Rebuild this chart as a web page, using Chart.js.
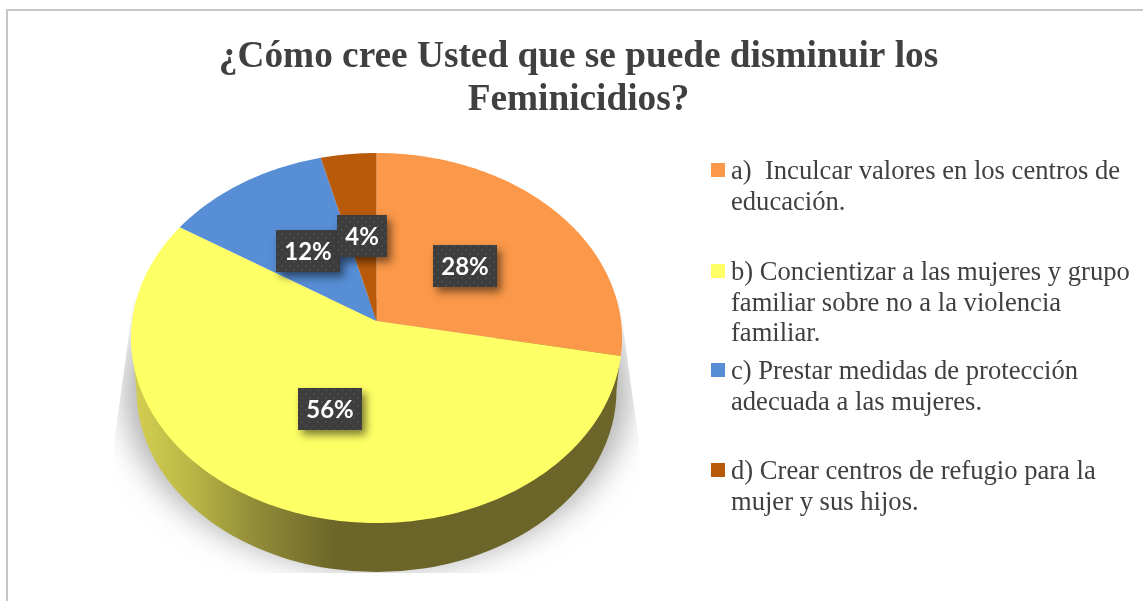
<!DOCTYPE html>
<html lang="es">
<head>
<meta charset="utf-8">
<title>Feminicidios</title>
<script src="https://cdn.jsdelivr.net/npm/chart.js@4/dist/chart.umd.min.js"></script>
<style>
  html, body { margin: 0; padding: 0; background: #fff; overflow: hidden; }
  #wrap { position: relative; width: 1143px; height: 601px; }
  #frame { position: absolute; left: 6px; top: 9px; right: 0; bottom: 0; border-left: 2px solid #c6c6c6; border-top: 2px solid #c6c6c6; }
  canvas { position: absolute; left: 0; top: 0; }
  .leyenda { position: absolute; left: 731px; font: 26.6px/30.7px "Liberation Serif", serif; color: #404040; white-space: pre; }
  .leyenda i { position: absolute; left: -20px; top: 8px; width: 14px; height: 14px; }
</style>
</head>
<body>
<div id="wrap">
  <div id="frame"></div>
  <canvas id="grafico" width="1143" height="601"></canvas>
</div>
<script>
const titulo = ["¿Cómo cree Usted que se puede disminuir los", "Feminicidios?"];
const categorias = [
  "a)  Inculcar valores en los centros de\neducación.",
  "b) Concientizar a las mujeres y grupo\nfamiliar sobre no a la violencia\nfamiliar.",
  "c) Prestar medidas de protección\nadecuada a las mujeres.",
  "d) Crear centros de refugio para la\nmujer y sus hijos."
];
const valores = [28, 56, 12, 4];
const colores = ["#FB9849", "#FFFF66", "#578ED6", "#B85A0A"];

// sitio de cada entrada de la leyenda
const leyendaTop = [155, 256, 355, 455];
// que tan lejos del apice va cada etiqueta (0 a 1)
const etiquetaT = [0.5, 0.473, 0.51, 0.51];

// geometria del pie: circulo base y como se aplasta
const centroX = 376.5, centroY = 338, radio = 245.5;
const aplastado = 185 / 245.5;
const inclinacion = -0.092;

function proyectar(arc, ang, t) {
  const X = Math.cos(ang), Y = Math.sin(ang);
  const d = 1 + inclinacion * Y;
  const px = X * Math.sqrt(1 - inclinacion * inclinacion) / d;
  const py = (Y + inclinacion) / d;
  const ax = arc.x, ay = arc.y + arc.outerRadius * aplastado * inclinacion;
  const bx = arc.x + arc.outerRadius * px, by = arc.y + arc.outerRadius * aplastado * py;
  return { x: ax + (bx - ax) * t, y: ay + (by - ay) * t };
}

function tramaPuntos(ctx) {
  const c = document.createElement("canvas");
  c.width = 8; c.height = 8;
  const g = c.getContext("2d");
  g.fillStyle = "#3d3d3d"; g.fillRect(0, 0, 8, 8);
  g.fillStyle = "#4a4a4a"; g.fillRect(1, 1, 2, 2);
  g.fillRect(5, 5, 2, 2);
  return ctx.createPattern(c, "repeat");
}

const pie3d = {
  id: "pie3d",
  afterLayout(chart) {
    // el titulo se monta sobre la caja del circulo, asi que la caja se fija a mano
    chart.chartArea = {
      left: centroX - radio, right: centroX + radio,
      top: centroY - radio, bottom: centroY + radio,
      width: radio * 2, height: radio * 2
    };
  },
  beforeDatasetDraw(chart, args) {
    const ctx = chart.ctx;
    const arcs = args.meta.data;
    const cx = arcs[0].x, cy = arcs[0].y, r = arcs[0].outerRadius;
    const baseY = cy + 52, baseRy = 182, baseRx = r - 5.5;

    // sombra
    ctx.save();
    ctx.beginPath();
    ctx.moveTo(cx - r + 3, cy - 40);
    ctx.lineTo(cx - r - 17, cy + 105);
    ctx.lineTo(cx - r - 17, baseY + baseRy + 1);
    ctx.lineTo(cx + r + 17, baseY + baseRy + 1);
    ctx.lineTo(cx + r + 17, cy + 105);
    ctx.lineTo(cx + r - 3, cy - 40);
    ctx.closePath();
    ctx.clip();
    ctx.filter = "blur(16px)";
    ctx.fillStyle = "#adadad";
    ctx.beginPath();
    ctx.ellipse(cx, baseY, r + 6, baseRy - 4, 0, 0, Math.PI * 2);
    ctx.fill();
    ctx.restore();

    // pared
    const grad = ctx.createLinearGradient(cx - baseRx, 0, cx + baseRx, 0);
    grad.addColorStop(0, "#d2cd50");
    grad.addColorStop(0.11, "#bcb746");
    grad.addColorStop(0.24, "#938e38");
    grad.addColorStop(0.42, "#6b6529");
    grad.addColorStop(1, "#6b6529");
    ctx.save();
    ctx.fillStyle = grad;
    ctx.beginPath();
    ctx.moveTo(cx - r, cy);
    ctx.lineTo(cx - baseRx, baseY);
    ctx.ellipse(cx, baseY, baseRx, baseRy, 0, Math.PI, 0, true);
    ctx.lineTo(cx + r, cy);
    ctx.closePath();
    ctx.fill();
    ctx.restore();

    // gajos con los angulos que calcula Chart.js
    arcs.forEach((arc, i) => {
      const pasos = Math.ceil((arc.endAngle - arc.startAngle) * 60);
      const apice = proyectar(arc, arc.startAngle, 0);
      ctx.fillStyle = colores[i];
      ctx.beginPath();
      ctx.moveTo(apice.x, apice.y);
      for (let k = 0; k <= pasos; k++) {
        const p = proyectar(arc, arc.startAngle + (arc.endAngle - arc.startAngle) * k / pasos, 1);
        ctx.lineTo(p.x, p.y);
      }
      ctx.closePath();
      ctx.fill();
    });
    return false;
  },
  afterDatasetsDraw(chart) {
    // etiquetas con caja oscura, el 4% queda encima del 12%
    const ctx = chart.ctx;
    const trama = tramaPuntos(ctx);
    chart.getDatasetMeta(0).data.forEach((arc, i) => {
      const p = proyectar(arc, (arc.startAngle + arc.endAngle) / 2, etiquetaT[i]);
      const txt = valores[i] + "%";
      ctx.save();
      ctx.font = '700 24px "Lato", sans-serif';
      const w = Math.round(ctx.measureText(txt).width) + 16, h = 42;
      const bx = Math.round(p.x - w / 2), by = Math.round(p.y - h / 2);
      ctx.shadowColor = "rgba(0,0,0,0.5)";
      ctx.shadowBlur = 8;
      ctx.shadowOffsetX = 4;
      ctx.shadowOffsetY = 5;
      ctx.fillStyle = "#3d3d3d";
      ctx.fillRect(bx, by, w, h);
      ctx.shadowColor = "transparent";
      ctx.fillStyle = trama;
      ctx.fillRect(bx, by, w, h);
      ctx.fillStyle = "#fff";
      ctx.textAlign = "center";
      ctx.textBaseline = "middle";
      ctx.fillText(txt, bx + w / 2, by + h / 2 + 1);
      ctx.restore();
    });
  }
};

new Chart(document.getElementById("grafico"), {
  type: "pie",
  data: {
    labels: categorias,
    datasets: [{ data: valores, backgroundColor: colores, borderWidth: 0 }]
  },
  options: {
    responsive: false,
    animation: false,
    layout: { padding: { left: 14, top: 0 } },
    plugins: {
      legend: { display: false },
      tooltip: { enabled: false },
      title: {
        display: true,
        text: titulo,
        color: "#404040",
        font: { family: '"Liberation Serif", serif', size: 37.3, weight: "bold", lineHeight: 1.153 },
        padding: { top: 36, bottom: 0 }
      }
    }
  },
  plugins: [pie3d]
});

// leyenda en HTML, con los saltos de linea del original
const wrap = document.getElementById("wrap");
categorias.forEach((cat, i) => {
  const d = document.createElement("div");
  d.className = "leyenda";
  d.style.top = leyendaTop[i] + "px";
  d.textContent = cat;
  const s = document.createElement("i");
  s.style.background = colores[i];
  d.appendChild(s);
  wrap.appendChild(d);
});
</script>
</body>
</html>
